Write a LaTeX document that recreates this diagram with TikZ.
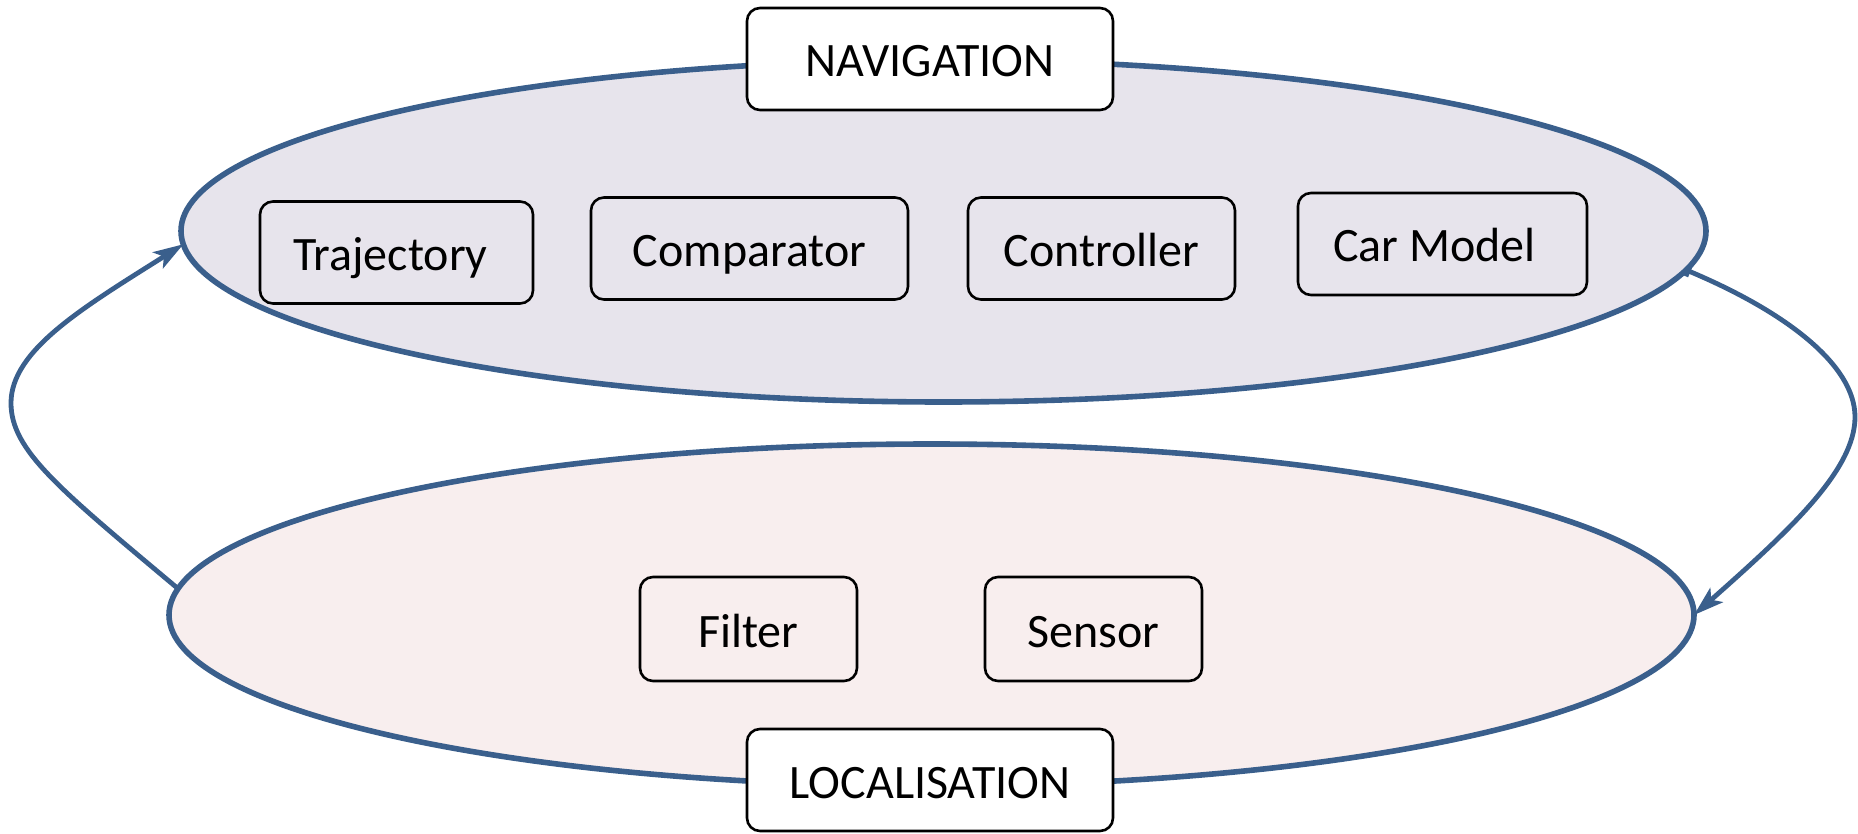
\documentclass[tikz,border=0pt]{standalone}
\usepackage{fontspec}
\setmainfont{Carlito}
\usetikzlibrary{shapes.geometric,arrows.meta}
\definecolor{flowblue}{RGB}{58,95,140}
\definecolor{navfill}{RGB}{231,228,236}
\definecolor{locfill}{RGB}{248,238,238}
\tikzset{
  phase/.style={ellipse, draw=flowblue, line width=2.8pt, inner sep=0pt, outer sep=0pt,
    minimum width=762.5pt, minimum height=171pt},
  block/.style={draw=black, line width=1.3pt, rounded corners=6.5pt, inner sep=0pt,
    minimum height=51pt, text height=18pt, text depth=0pt,
    font=\fontsize{24}{29}\selectfont},
  title/.style={block, fill=white},
  head/.tip={Stealth[length=15pt,width=9.5pt,inset=3.5pt]},
  loop/.style={draw=flowblue, line width=2.4pt, -head},
}
\begin{document}
\begin{tikzpicture}[x=0.5pt,y=-0.5pt]
  \useasboundingbox (0,0) rectangle (1858,834);

  % the two phases of the loop
  \node[phase, fill=navfill] (nav) at (943.5,231) {};
  \node[phase, fill=locfill] (loc) at (931.5,615) {};

  % feedback paths between the phases
  \coordinate (lbend) at (11,403);
  \coordinate (rbend) at (1855,417);
  \draw[loop] (loc.178.7) .. controls (58,488) and (11,450) .. (lbend)
              .. controls (11,350) and (84,307) .. (nav.181.3);
  \draw[loop, {Bar[width=6pt]}-head]
              (nav.357.8) .. controls (1786,312) and (1855,365) .. (rbend)
              .. controls (1855,470) and (1790,530) .. (loc.0.4);

  % phase titles
  \node[title, minimum width=183pt] (navtitle) at (930,59) {NAVIGATION};
  \node[title, minimum width=183pt] (loctitle) at (930,780) {LOCALISATION};

  % navigation blocks
  \node[block, minimum width=136.5pt] (traj) at (396.5,252.5) {Trajectory\hspace*{6pt}};
  \node[block, minimum width=158.5pt] (comp) at (749.5,248.5) {Comparator};
  \node[block, minimum width=133.5pt] (ctrl) at (1101.5,248.5) {Controller};
  \node[block, minimum width=144.5pt] (car) at (1442.5,244) {Car Model\hspace*{8pt}};

  % localisation blocks
  \node[block, minimum width=108.5pt, minimum height=52pt] (filt) at (748.5,629) {Filter};
  \node[block, minimum width=108.5pt, minimum height=52pt] (sens) at (1093.5,629) {Sensor};
\end{tikzpicture}
\end{document}
